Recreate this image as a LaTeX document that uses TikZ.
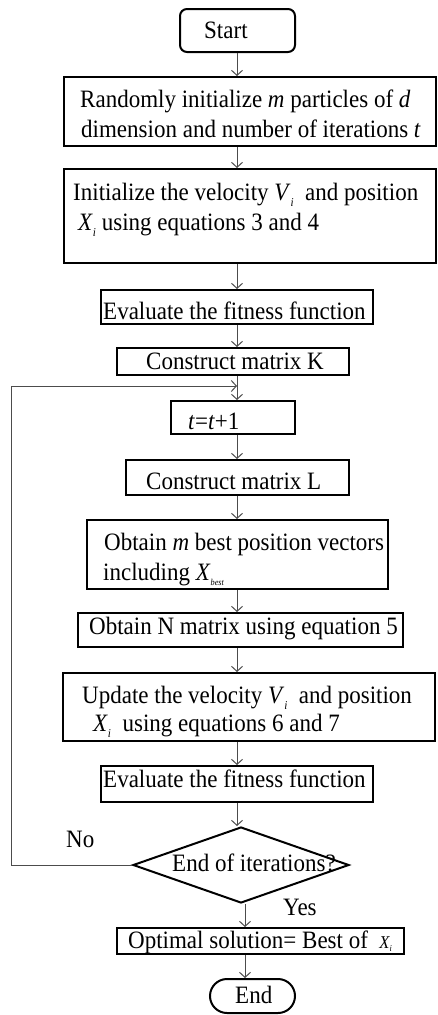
\documentclass[tikz,border=0pt]{standalone}
\usepackage{fontspec}
\setmainfont{Liberation Serif}[FakeStretch=0.92]
\usetikzlibrary{arrows.meta,shapes.geometric}
\newcommand{\vsub}[2]{\textit{#1}\raisebox{-6pt}{\fontsize{12}{12}\selectfont\itshape #2}}
\begin{document}
\begin{tikzpicture}[x=1pt,y=-1pt,
  box/.style={draw,line width=2pt,inner sep=0pt,anchor=center},
  txt/.style={inner sep=0pt,anchor=base west,font=\fontsize{25}{30}\selectfont},
  conn/.style={draw=black!70,line width=1pt,-{Straight Barb[length=5pt,width=11pt]}},
]
\useasboundingbox (0,0) rectangle (437,1015);
\coordinate (c1) at (237,0);
\coordinate (c2) at (245,0);
% boxes
\node[box,rounded corners=7pt,minimum width=115pt,minimum height=43pt] (start) at (237.5,30.5) {};
\node[box,minimum width=372pt,minimum height=69pt] (init) at (249.5,111.5) {};
\node[box,minimum width=372pt,minimum height=94pt] (initv) at (249.5,216) {};
\node[box,minimum width=272pt,minimum height=34pt] (eval1) at (237,307) {};
\node[box,minimum width=232pt,minimum height=27pt] (consK) at (233,361.5) {};
\node[box,minimum width=124pt,minimum height=33pt] (tinc) at (233,417.5) {};
\node[box,minimum width=223pt,minimum height=35pt] (consL) at (237.5,477.5) {};
\node[box,minimum width=301pt,minimum height=69pt] (obtm) at (237.5,554.5) {};
\node[box,minimum width=325pt,minimum height=34pt] (obtN) at (240.5,630) {};
\node[box,minimum width=372pt,minimum height=68pt] (upd) at (249,707) {};
\node[box,minimum width=272pt,minimum height=36pt] (eval2) at (237,784) {};
\node[box,shape=diamond,minimum width=216pt,minimum height=76pt] (dec) at (241,865) {};
\node[box,minimum width=287pt,minimum height=26pt] (opt) at (260.5,941) {};
\node[box,rounded corners=17pt,minimum width=85pt,minimum height=34pt] (end) at (252.5,996) {};
% texts
\node[txt] (tstart) at (204,38) {Start};
\node[txt] (tinit1) at (80,107) {Randomly initialize \textit{m} particles of \textit{d}};
\node[txt] (tinit2) at (81,137) {dimension and number of iterations \textit{t}};
\node[txt] (tinitv1) at (73,200) {Initialize the velocity \vsub{V}{i}\ \ and position};
\node[txt] (tinitv2) at (78,230) {\vsub{X}{i}\ using\ equations 3 and 4};
\node[txt] (teval1) at (103,319) {Evaluate the fitness function};
\node[txt] (tconsK) at (146,369) {Construct matrix K};
\node[txt] (ttinc) at (188,429) {\textit{t}=\textit{t}+1};
\node[txt] (tconsL) at (146,489) {Construct matrix L};
\node[txt] (tobtm1) at (104,550) {Obtain \textit{m} best position vectors};
\node[txt] (tobtm2) at (103,580) {including \textit{X}\raisebox{-5pt}{\fontsize{9}{9}\selectfont\itshape best}};
\node[txt] (tobtN) at (89,634) {Obtain N matrix using equation 5};
\node[txt] (tupd1) at (82,703) {Update the velocity \vsub{V}{i}\ \ and position};
\node[txt] (tupd2) at (93,731) {\vsub{X}{i}\ \ using equations 6 and 7};
\node[txt] (teval2) at (103,787) {Evaluate the fitness function};
\node[txt] (tdec) at (172,871) {End of iterations?};
\node[txt] (topt) at (128,948) {Optimal solution= Best of \ {\fontsize{18}{18}\selectfont\itshape X}\raisebox{-3pt}{\fontsize{9}{9}\selectfont\itshape i}};
\node[txt] (tend) at (235,1003) {End};
\node[txt] (tno) at (66,847) {No};
\node[txt] (tyes) at (283,915) {Yes};
% connectors
\draw[conn] (start.south -| c1) -- (init.north -| c1);
\draw[conn] (init.south -| c1) -- (initv.north -| c1);
\draw[conn] (initv.south -| c1) -- (eval1.north -| c1);
\draw[conn] (eval1.south -| c1) -- (consK.north -| c1);
\draw[conn] (consK.south -| c1) -- (tinc.north -| c1);
\draw[conn] (tinc.south -| c1) -- (consL.north -| c1);
\draw[conn] (consL.south -| c1) -- (obtm.north -| c1);
\draw[conn] (obtm.south -| c1) -- (obtN.north -| c1);
\draw[conn] (obtN.south -| c1) -- (upd.north -| c1);
\draw[conn] (upd.south -| c1) -- (eval2.north -| c1);
\draw[conn] (eval2.south -| c1) -- (dec.north -| c1);
\draw[conn] (dec.south -| c2) -- (opt.north -| c2);
\draw[conn] (opt.south -| c2) -- (end.north -| c2);
\coordinate (lb) at (11,865);
\coordinate (lt) at (11,386);
\coordinate (lj) at (237,386);
\draw[conn] (dec.west) -- (lb) -- (lt) -- (lj);
\end{tikzpicture}
\end{document}
